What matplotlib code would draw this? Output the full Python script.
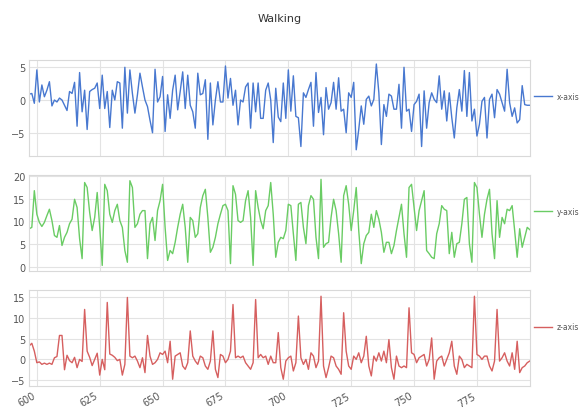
"""Walking accelerometer trace, three axes."""

import matplotlib

matplotlib.use("Agg")
import matplotlib.pyplot as plt
import numpy as np


START = 597
TITLE = "Walking"
SERIES_NAMES = ("x-axis", "y-axis", "z-axis")
COLORS = ("#4878d0", "#6acc64", "#d65f5f")
XTICKS = [600, 625, 650, 675, 700, 725, 750, 775]

x_axis = [
    0.9, 1.0, -0.5, 4.6, -0.3, 2.3, 0.5, 1.5, 2.8, -0.9,
    0.0, -0.3, 0.3, 0.0, -0.8, -1.6, 1.3, 1.0, 2.7, -4.0,
    4.2, -1.8, 1.5, -4.5, 1.3, 1.6, 1.8, 2.6, -1.3, 3.8,
    -1.3, 1.3, -4.2, 1.5, 0.0, 2.8, 2.6, -4.3, 5.0, -2.0,
    4.6, 1.0, -2.0, 0.8, 4.1, 2.0, 0.0, -1.0, -3.1, -5.0,
    4.7, -0.3, 0.5, 3.6, -4.8, 0.8, -2.8, 1.5, 3.8, -1.5,
    1.3, 4.3, -1.3, 3.8, -0.8, -1.8, -4.3, 4.1, 0.8, 1.0,
    3.1, -6.0, 2.6, -3.8, 0.0, 2.8, -0.3, -0.3, 5.2, 0.3,
    3.3, -0.8, 1.5, -3.8, 0.0, -0.3, 2.0, 2.6, -4.3, 2.6,
    -1.8, 2.6, -2.8, -2.8, 1.5, 2.6, 0.0, -6.5, 1.8, -2.6,
    -3.3, 2.6, -2.8, 4.6, -1.7, 3.7, -2.5, -2.7, -7.1, 1.1,
    0.4, 1.6, 2.7, -4.0, 4.2, -1.9, 0.4, -5.3, 1.9, -1.4,
    -0.4, 2.7, -1.4, 3.4, -1.7, -1.4, -5.0, 1.1, 0.4, 2.7,
    -7.6, -4.5, -0.9, -3.7, 0.1, 0.6, -0.9, 0.1, 5.5, 1.1,
    -6.8, -0.7, -2.5, 0.9, 0.6, -1.4, -1.4, 2.4, -4.3, 5.0,
    -1.7, -1.4, -4.8, -0.7, -0.2, 0.9, -7.1, 1.4, -4.3, -0.4,
    1.1, 0.1, -0.4, 3.7, -1.4, 1.4, -3.2, 1.1, -2.7, -5.8,
    -1.2, 1.6, -1.7, 4.5, -2.5, 4.2, -3.2, -1.4, -5.5, -3.7,
    -0.2, 0.4, -5.8, 0.1, 0.9, -2.7, 1.6, 0.9, -0.4, -1.7,
    4.7, -0.4, -2.5, -1.2, -3.5, -3.0, 2.2, -0.7, -0.8, -0.8,
]

y_axis = [
    8.4, 8.7, 16.8, 11.6, 9.8, 8.9, 9.8, 11.3, 12.7, 10.2,
    6.9, 6.5, 9.1, 4.7, 6.5, 7.6, 9.5, 10.5, 14.9, 13.1,
    6.2, 1.8, 18.6, 17.5, 12.0, 8.0, 10.9, 16.4, 8.7, 0.3,
    18.2, 16.8, 11.6, 9.8, 12.4, 13.8, 10.2, 8.7, 3.6, 1.0,
    19.0, 17.5, 8.7, 9.5, 11.6, 12.4, 12.4, 1.8,
    9.5, 10.9, 5.8, 12.4, 14.6, 18.2, 8.7, 1.4, 3.6, 2.9,
    5.4, 8.7, 11.6, 13.8, 8.7, 1.0, 10.9, 10.2, 6.5, 7.3,
    13.1, 15.7, 17.1, 10.9, 3.2, 4.3, 6.5, 9.5, 11.6, 13.5,
    13.8, 12.4, 0.7, 17.9, 16.0, 10.2, 9.8, 10.2, 14.6, 16.8,
    10.9, 0.3, 16.8, 13.1, 10.2, 8.4, 12.4, 13.5, 18.6, 11.6,
    2.1, 5.4, 6.5, 6.2, 8.0, 13.8, 13.5, 7.3, 1.4, 13.8,
    14.2, 8.7, 5.1, 13.5, 15.7, 14.9, 6.5, 1.8, 19.3, 4.3,
    5.1, 5.4, 10.9, 14.9, 12.4, 7.3, 1.0, 15.7, 17.9, 13.8,
    8.0, 12.4, 17.5, 8.0, 0.7, 5.1, 6.9, 7.6, 11.6, 8.7,
    12.4, 10.5, 7.6, 3.2, 5.4, 5.4, 2.9, 4.7, 8.0, 10.9,
    13.8, 7.3, 2.1, 17.5, 18.2, 13.1, 8.0, 12.4, 14.6, 16.8,
    3.6, 2.9, 2.1, 1.8, 7.3, 9.5, 13.5, 12.7, 12.4, 2.9,
    7.6, 2.1, 5.1, 5.4, 9.5, 14.9, 15.3, 5.1, 1.0, 18.6,
    17.5, 11.6, 6.5, 11.6, 14.9, 17.1, 7.3, 1.8, 14.6, 6.5,
    10.9, 9.5, 12.7, 12.4, 13.5, 8.0, 2.1, 8.4, 4.3, 6.5,
    8.7, 8.2,
]

z_axis = [
    3.3, 3.9, 2.0, -0.8, -0.6, -1.2, -0.9, -1.2, -0.9, -1.2,
    0.4, 0.7, 5.8, 5.8, -2.5, 1.0, -0.3, -0.8, 0.5, -2.0,
    0.0, -0.5, 12.1, 2.0, 0.5, -1.5, 0.0, 1.5, -3.8, 0.0,
    -2.5, 13.8, 1.3, 1.0, 0.5, -0.3, 0.0, -3.8, -1.2, 15.0,
    0.8, 0.4, 0.8, -0.4, -2.0, 0.4, -3.2, 5.8,
    0.8, -1.2, -0.8, 0.0, 1.6, 1.2, 2.0, -0.8, 4.4, -4.8,
    0.8, 1.2, 1.6, -1.6, -2.4, -0.8, 6.9, 0.8, -0.4, -1.2,
    0.8, 0.4, -1.6, -2.4, -0.4, 6.9, -2.4, -4.4, 1.2, 0.8,
    -0.8, 0.0, 2.0, 13.3, 0.4, 0.8, 0.4, 0.8, -0.8, -1.6,
    -2.4, -0.8, 14.5, 0.4, 1.2, 0.4, 0.8, -1.2, 0.8, -0.8,
    -0.8, 6.5, -2.0, -4.8, -0.4, 0.4, 0.8, -2.8, -0.8, 10.5,
    0.4, -1.2, 0.0, -2.4, 1.6, 0.8, -2.0, -0.4, 15.3, -1.6,
    -4.4, -2.0, 0.8, 0.4, -1.6, -2.4, -3.6, 11.3, 2.0, -1.6,
    -2.4, 0.8, 0.0, 1.6, -0.8, 0.8, 5.6, -1.6, -4.0, 0.8,
    -0.4, 1.6, -0.4, 2.0, -0.8, 4.8, -2.0, -4.8, 0.8, -1.6,
    -2.0, -1.6, -2.0, 12.5, 1.6, 1.2, -0.8, 0.4, 0.8, 1.2,
    -1.6, 0.0, 5.2, -4.8, -0.4, 0.4, 0.8, -1.6, 0.0, 1.6,
    4.4, -1.6, -3.6, 0.8, 0.0, -2.0, -1.2, -1.6, -2.0, 15.3,
    1.2, 0.8, 0.0, 0.8, 0.8, -1.6, -2.8, -0.4, 12.1, -0.4,
    0.4, 1.6, -0.4, -1.6, 1.6, -2.4, 4.4, -3.2, -2.0, -1.6,
    -0.8, -0.4,
]

YLIMS = ((-8.5, 6.1), (-0.9, 20.2), (-6.45, 16.7))
YTICKS = ((-5, 0, 5), (0, 5, 10, 15, 20), (-5, 0, 5, 10, 15))


def set_style() -> None:
    plt.rcParams.update(
        {
            "font.family": "DejaVu Sans",
            "font.size": 7,
            "axes.edgecolor": "#d9d9d9",
            "axes.linewidth": 0.8,
            "axes.grid": True,
            "grid.color": "#e3e3e3",
            "grid.linewidth": 0.8,
            "xtick.color": "#555555",
            "ytick.color": "#555555",
            "xtick.major.size": 0,
            "ytick.major.size": 0,
            "xtick.labelsize": 7,
            "ytick.labelsize": 7,
            "legend.frameon": False,
        }
    )


set_style()
series = (x_axis, y_axis, z_axis)

fig, axes = plt.subplots(3, 1, figsize=(5.86, 4.10), dpi=100, sharex=True)
fig.subplots_adjust(left=0.05, right=0.904, top=0.851, bottom=0.056, hspace=0.205)

for ax, values, name, color, ylim, yticks in zip(axes, series, SERIES_NAMES, COLORS, YLIMS, YTICKS):
    idx = START + np.arange(len(values))
    ax.plot(idx, values, color=color, lw=1.0, label=name)
    ax.set_xlim(idx[0], idx[-1])
    ax.set_ylim(*ylim)
    ax.set_yticks(yticks)
    ax.tick_params(pad=3)
    ax.legend(loc="center left", bbox_to_anchor=(1.0, 0.62), fontsize=5.5,
              handlelength=2.4, handletextpad=0.6, borderaxespad=0.1,
              labelcolor="#555555")

axes[-1].set_xticks(XTICKS)
for label in axes[-1].get_xticklabels():
    label.set_rotation(30)
    label.set_ha("right")

fig.suptitle(TITLE, x=0.477, y=0.965, fontsize=8, color="#333333")
fig.savefig("out.png", dpi=100)
